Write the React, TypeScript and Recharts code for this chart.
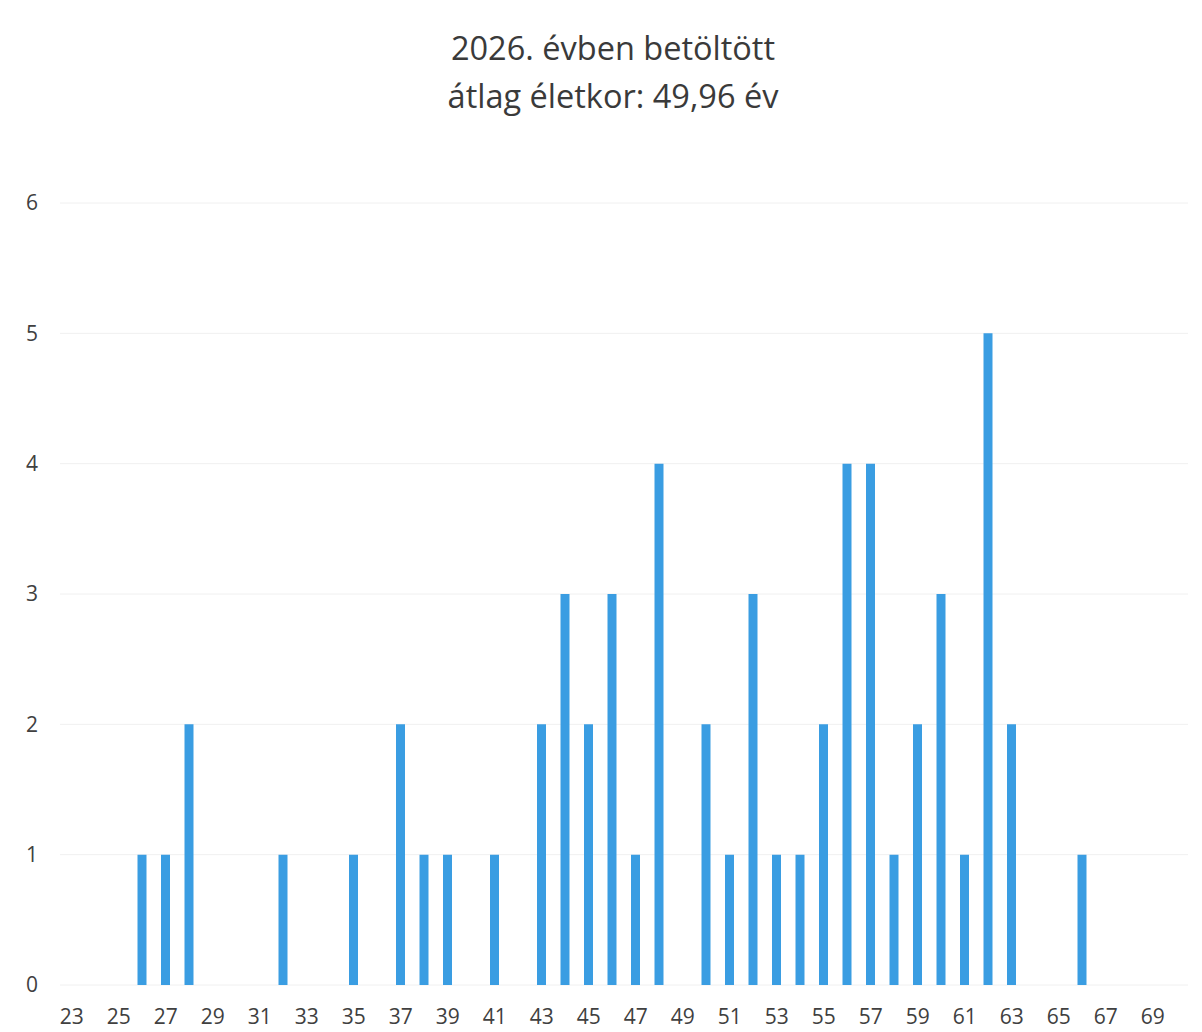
import React from 'react';
import { BarChart, Bar, XAxis, YAxis, CartesianGrid } from 'recharts';

// ages 23..70, count of people per age
const ages = [
  23, 24, 25, 26, 27, 28, 29, 30, 31, 32, 33, 34, 35, 36, 37, 38, 39, 40, 41, 42, 43, 44, 45, 46,
  47, 48, 49, 50, 51, 52, 53, 54, 55, 56, 57, 58, 59, 60, 61, 62, 63, 64, 65, 66, 67, 68, 69, 70,
];
const counts = [
  0, 0, 0, 1, 1, 2, 0, 0, 0, 1, 0, 0, 1, 0, 2, 1, 1, 0, 1, 0, 2, 3, 2, 3,
  1, 4, 0, 2, 1, 3, 1, 1, 2, 4, 4, 1, 2, 3, 1, 5, 2, 0, 0, 1, 0, 0, 0, 0,
];
const yTicks = [0, 1, 2, 3, 4, 5, 6];

const titleLines = ['2026. évben betöltött', 'átlag életkor: 49,96 év'];

const App = () => {
  const data = ages.map((age, i) => ({ age: String(age), count: counts[i] }));

  return (
    <div style={{ position: 'absolute', left: 0, top: 0, width: 1202, height: 1032, background: '#fff' }}>
      <div
        style={{
          position: 'absolute',
          left: 0,
          top: 24,
          width: 1226,
          textAlign: 'center',
          fontFamily: '"Open Sans", sans-serif',
          fontSize: 32.5,
          lineHeight: '48px',
          color: '#3a3a3a',
        }}
      >
        {titleLines.map((t) => (
          <div key={t}>{t}</div>
        ))}
      </div>
      <BarChart
        width={1202}
        height={1032}
        data={data}
        margin={{ top: 203, right: 14, left: 0, bottom: 0 }}
        barCategoryGap={0}
      >
        <CartesianGrid vertical={false} stroke="#f0f0f0" />
        <XAxis
          dataKey="age"
          interval={1}
          axisLine={false}
          tickLine={false}
          height={47}
          tick={{ fill: '#404040', fontSize: 21, fontFamily: '"Open Sans", sans-serif' }}
          dy={16}
        />
        <YAxis
          domain={[0, 6]}
          ticks={yTicks}
          axisLine={false}
          tickLine={false}
          width={60}
          tick={{ fill: '#404040', fontSize: 21, fontFamily: '"Open Sans", sans-serif' }}
          dx={-14}
        />
        <Bar dataKey="count" fill="#3a9de2" barSize={9} isAnimationActive={false} />
      </BarChart>
    </div>
  );
};

export default App;
